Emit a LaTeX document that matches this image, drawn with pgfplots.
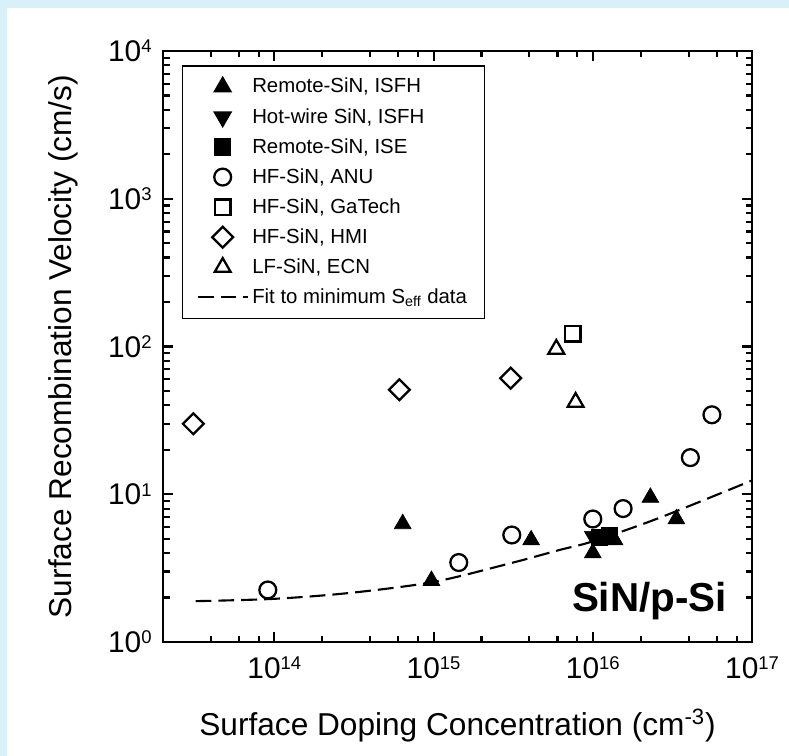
\documentclass[border=0pt]{standalone}
\usepackage{fontspec}
\setmainfont{Liberation Sans}
\usepackage{pgfplots}
\pgfplotsset{compat=1.18}
\definecolor{framebg}{RGB}{216,240,248}
\newcommand{\tp}[1]{10\raisebox{5pt}{\fontsize{10.5}{12}\selectfont #1}}

\begin{document}
\begin{tikzpicture}
\useasboundingbox (-3.26,-2.28) rectangle (12.52,12.84);
\fill[framebg] (-3.26,-2.28) rectangle (12.52,12.84);
\fill[white] (-3.12,-2.28) rectangle (12.52,12.68);
\begin{axis}[
  scale only axis, width=11.78cm, height=11.82cm,
  xmode=log, ymode=log,
  xmin=2e13, xmax=1e17, ymin=1, ymax=1e4,
  xtick={1e14,1e15,1e16,1e17},
  xticklabels={\tp{14},\tp{15},\tp{16},\tp{17}},
  ytick={1,10,100,1000,10000},
  yticklabels={\tp{0},\tp{1},\tp{2},\tp{3},\tp{4}},
  minor xtick={4e13,6e13,8e13,2e14,4e14,6e14,8e14,2e15,4e15,6e15,8e15,2e16,4e16,6e16,8e16},
  minor ytick={2,3,4,5,6,7,8,9,20,30,40,50,60,70,80,90,200,300,400,500,600,700,800,900,2000,3000,4000,5000,6000,7000,8000,9000},
  tick align=inside,
  major tick length=0.2cm, minor tick length=0.13cm,
  tick style={black, line width=1.2pt},
  axis line style={line width=1.6pt},
  ticklabel style={font=\fontsize{17}{20}\selectfont},
  xticklabel style={yshift=-5pt},
  yticklabel style={xshift=-3pt},
  label style={font=\fontsize{18}{21}\selectfont},
  xlabel={Surface Doping Concentration (cm\textsuperscript{-3})},
  ylabel={Surface Recombination Velocity (cm/s)},
  xlabel style={at={(axis description cs:0.5,-0.142)}, anchor=center},
  ylabel style={at={(axis description cs:-0.170,0.5)}, anchor=center},
  legend cell align=left,
  legend image code/.code={\draw[mark repeat=2,mark phase=2,#1] plot coordinates {(0cm,0cm) (0.5cm,0cm) (1cm,0cm)};},
  legend style={at={(rel axis cs:0.032,0.976)}, anchor=north west, draw=black,
    line width=0.8pt, font=\fontsize{11.6}{13}\selectfont, row sep=3.2pt,
    inner xsep=8pt, inner ysep=5pt},
]
\addplot[only marks, mark=triangle*, mark size=5.5pt, black] coordinates {
  (6.4e14,6.3) (9.7e14,2.6) (4.1e15,4.9) (1.0e16,4.0) (1.37e16,4.9) (2.3e16,9.5) (3.35e16,6.8)};
\addlegendentry{Remote-SiN, ISFH}
\addplot[only marks, mark=triangle*, mark size=5.5pt, mark options={rotate=180}, black] coordinates {
  (1.0e16,5.2)};
\addlegendentry{Hot-wire SiN, ISFH}
\addplot[only marks, mark=square*, mark size=4.6pt, black] coordinates {
  (1.1e16,5.1) (1.27e16,5.3)};
\addlegendentry{Remote-SiN, ISE}
\addplot[only marks, mark=o, mark size=4.8pt, line width=1.3pt, black] coordinates {
  (9.1e13,2.25) (1.44e15,3.45) (3.1e15,5.3) (1.0e16,6.8) (1.55e16,8.0) (4.1e16,17.7) (5.6e16,34.5)};
\addlegendentry{HF-SiN, ANU}
\addplot[only marks, mark=square, mark size=4.4pt, line width=1.3pt, black] coordinates {
  (7.5e15,122)};
\addlegendentry{HF-SiN, GaTech}
\addplot[only marks, mark=square, mark size=4.2pt, mark options={rotate=45}, line width=1.3pt, black] coordinates {
  (3.1e13,30) (6.1e14,51) (3.05e15,61)};
\addlegendentry{HF-SiN, HMI}
\addplot[only marks, mark=triangle, mark size=5.2pt, line width=1.3pt, black] coordinates {
  (5.9e15,96) (7.8e15,42)};
\addlegendentry{LF-SiN, ECN}
\addplot[black, line width=1.2pt, dash pattern=on 9pt off 4pt, smooth, mark=none] coordinates {
  (3.2e13,1.89) (1e14,1.96) (3e14,2.15) (1e15,2.55) (3e15,3.4) (6.2e15,4.2) (1e16,4.8) (2.6e16,6.9) (1e17,12.4)};
\addlegendentry{Fit to minimum S\textsubscript{eff} data}
\node[anchor=base east, font=\fontsize{23}{26}\selectfont\bfseries] at (rel axis cs:0.968,0.051) {SiN/p-Si};
\end{axis}
\end{tikzpicture}
\end{document}
